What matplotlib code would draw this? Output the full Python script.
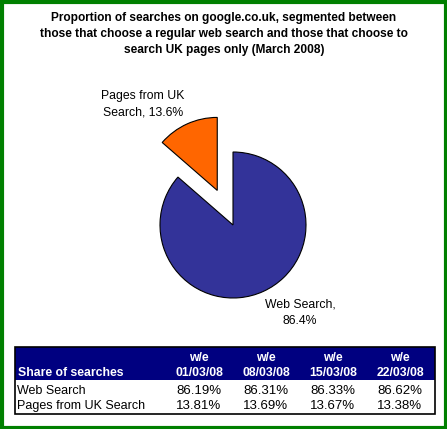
import matplotlib.pyplot as plt
from matplotlib.patches import Rectangle

plt.rcParams['font.family'] = ['Liberation Sans', 'DejaVu Sans']

# data
title = ("Proportion of searches on google.co.uk, segmented between\n"
         "those that choose a regular web search and those that choose to\n"
         "search UK pages only (March 2008)")
pie_labels = ["Web Search", "Pages from UK Search"]
pie_shares = [86.4, 13.6]
pie_colors = ["#333399", "#FF6600"]
weeks = ["01/03/08", "08/03/08", "15/03/08", "22/03/08"]
web_share = [86.19, 86.31, 86.33, 86.62]
uk_share = [13.81, 13.69, 13.67, 13.38]

W, H = 447, 429
fig = plt.figure(figsize=(W / 100, H / 100), dpi=100)
ax = fig.add_axes([0, 0, 1, 1])
ax.set_xlim(0, W)
ax.set_ylim(H, 0)
ax.axis('off')

# green frame
ax.add_patch(Rectangle((1.5, 1.5), W - 3, H - 3, fill=False, ec="#008000", lw=3))

ax.text(224, 34, title, ha='center', va='center', fontsize=8.6, fontweight='bold',
        linespacing=1.5)

# pie in its own axes (y up), positioned in pixels
cx, cy, r = 233, 225, 73
pax = fig.add_axes([0, 0, 1, 1])
wedges, _ = pax.pie(pie_shares, colors=pie_colors, startangle=90, counterclock=False,
                    explode=[0, 38], radius=r, center=(cx, H - cy),
                    wedgeprops=dict(edgecolor='black', linewidth=0.8))
pax.set_xlim(0, W)
pax.set_ylim(0, H)
pax.set_aspect('auto')
pax.axis('off')

ax.text(143, 104, f"{pie_labels[1].replace(' Search', '')}\nSearch, {pie_shares[1]}%",
        ha='center', va='center', fontsize=8.8, linespacing=1.55)
ax.text(300, 313, f"{pie_labels[0]},\n{pie_shares[0]}%", ha='center', va='center',
        fontsize=8.8, linespacing=1.55)

# table
tx0, tx1 = 15, 435
ty0, thead, ty1 = 347, 380, 414
ax.add_patch(Rectangle((tx0, ty0), tx1 - tx0, thead - ty0, fc="#000080", ec='none'))
ax.add_patch(Rectangle((tx0, ty0), tx1 - tx0, ty1 - ty0, fill=False, ec='black', lw=1.2))
col_x = [199, 266, 333, 400]
ax.text(18, 373, "Share of searches", color='white', fontweight='bold', fontsize=8.8,
        ha='left', va='center')
for x, wk, a, b in zip(col_x, weeks, web_share, uk_share):
    ax.text(x, 358, "w/e", color='white', fontweight='bold', fontsize=8.8, ha='center', va='center')
    ax.text(x, 373, wk, color='white', fontweight='bold', fontsize=8.8, ha='center', va='center')
    ax.text(x, 391, f"{a:.2f}%", fontsize=9.5, ha='center', va='center')
    ax.text(x, 406, f"{b:.2f}%", fontsize=9.5, ha='center', va='center')
ax.text(17, 391, pie_labels[0], fontsize=9, ha='left', va='center')
ax.text(17, 406, pie_labels[1], fontsize=9, ha='left', va='center')

fig.savefig("out.png", dpi=100)
